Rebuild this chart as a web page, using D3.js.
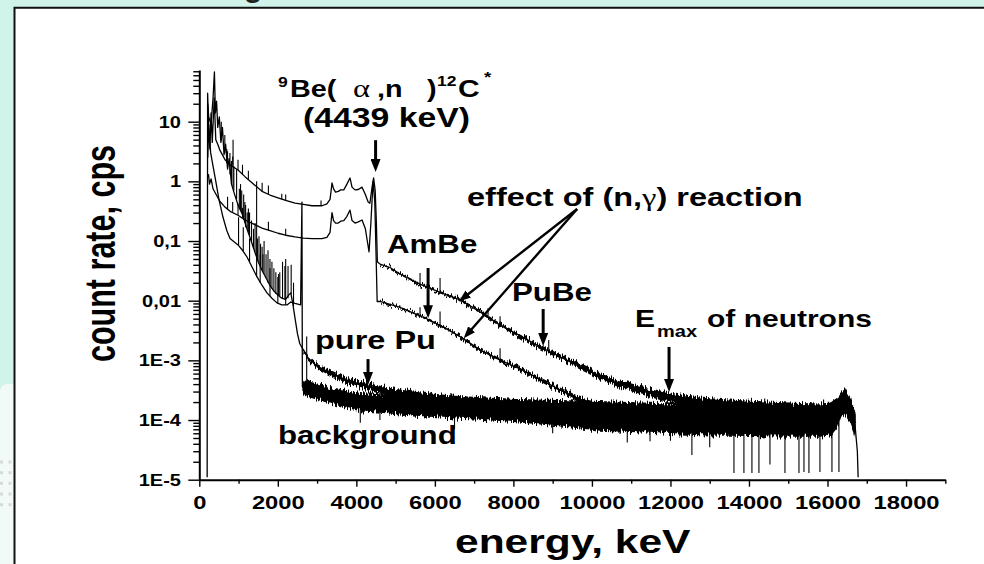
<!DOCTYPE html>
<html>
<head>
<meta charset="utf-8">
<script src="https://cdn.jsdelivr.net/npm/d3@7"></script>
<style>
  html, body { margin: 0; padding: 0; background: #fff; }
  svg { display: block; }
  text { font-family: "Liberation Sans", Arial, sans-serif; fill: #000; }
</style>
</head>
<body>
<div id="container"></div>
<script>
/* CONSTANTS AND GLOBALS */
const width = 984,
  height = 564,
  margin = { top: 70, bottom: 84.3, left: 199.3, right: 38.7 }
const stretch = 1.25 /* the slide picture is squeezed wider than tall, so the text is too */

/* DATA | each spectrum point is [energy keV, count rate cps, noise spread factor] */
const pubeSpectrum = [
  [215, 2.5, 1], [240, 9, 1], [270, 3.5, 1], [300, 14, 1], [330, 4.5, 1], [380, 25, 1], [420, 5, 1],
  [470, 4.2, 1], [527, 3.3, 1], [600, 2.7, 1], [655, 2.3, 1], [800, 1.85, 1], [986, 1.55, 1],
  [1164, 1.2, 1], [1400, 0.88, 1], [1597, 0.68, 1], [1800, 0.59, 1], [2005, 0.53, 1], [2200, 0.48, 1],
  [2438, 0.43, 1], [2650, 0.41, 1], [2871, 0.39, 1], [3125, 0.39, 1], [3250, 0.42, 1], [3330, 0.5, 1],
  [3380, 0.94, 1], [3420, 0.75, 1], [3470, 0.66, 1], [3540, 0.68, 1], [3600, 0.72, 1], [3680, 0.72, 1],
  [3760, 0.9, 1], [3838, 1.14, 1], [3890, 0.8, 1], [3966, 0.72, 1], [4050, 0.73, 1], [4145, 0.8, 1],
  [4230, 0.6, 1], [4300, 0.45, 1], [4345, 0.43, 1], [4400, 0.8, 1], [4440, 1.14, 1], [4480, 0.7, 1],
  [4510, 0.2, 1], [4535, 0.045, 1], [4603, 0.041, 1.03], [4858, 0.036, 1.035], [5113, 0.028, 1.04],
  [5622, 0.019, 1.045], [6132, 0.0138, 1.05], [6641, 0.0103, 1.055], [7151, 0.0065, 1.06],
  [7660, 0.0039, 1.07], [8169, 0.0026, 1.08], [8679, 0.00168, 1.09], [9188, 0.00115, 1.1],
  [9698, 0.00078, 1.11], [10207, 0.00054, 1.13], [10716, 0.0004, 1.15], [11225, 0.00032, 1.17],
  [11735, 0.00026, 1.2], [12244, 0.00022, 1.22], [12753, 0.00019, 1.25], [13400, 0.000175, 1.28],
  [14027, 0.00016, 1.32], [15300, 0.00014, 1.38], [16200, 0.00013, 1.4], [16450, 0.00022, 1.35],
  [16700, 0.00011, 1.4]
]

const ambeSpectrum = [
  [212, 1.2, 1], [235, 1.3, 1], [260, 0.9, 1], [300, 1.1, 1], [350, 0.75, 1], [400, 0.65, 1],
  [527, 0.46, 1], [655, 0.37, 1], [800, 0.31, 1], [986, 0.27, 1], [1164, 0.225, 1], [1400, 0.19, 1],
  [1597, 0.165, 1], [1800, 0.15, 1], [2005, 0.135, 1], [2200, 0.125, 1], [2438, 0.117, 1],
  [2650, 0.112, 1], [2871, 0.11, 1], [3125, 0.11, 1], [3250, 0.115, 1], [3330, 0.14, 1],
  [3380, 0.3, 1], [3420, 0.22, 1], [3470, 0.2, 1], [3540, 0.2, 1], [3600, 0.215, 1], [3680, 0.22, 1],
  [3760, 0.26, 1], [3838, 0.33, 1], [3890, 0.22, 1], [3966, 0.2, 1], [4050, 0.21, 1], [4145, 0.225, 1],
  [4230, 0.16, 1], [4290, 0.09, 1], [4323, 0.066, 1], [4370, 0.2, 1], [4425, 1.0, 1], [4470, 0.45, 1],
  [4505, 0.05, 1], [4530, 0.0097, 1], [4603, 0.0097, 1.03], [5113, 0.0077, 1.035], [5500, 0.006, 1.04],
  [5877, 0.0047, 1.045], [6250, 0.0035, 1.05], [6641, 0.0025, 1.055], [7151, 0.0015, 1.06],
  [7660, 0.00101, 1.07], [8169, 0.00072, 1.08], [8679, 0.00048, 1.09], [9188, 0.00032, 1.1],
  [9698, 0.00022, 1.12], [10207, 0.00016, 1.15], [10716, 0.00013, 1.18], [11480, 0.000115, 1.22],
  [12244, 0.000105, 1.27], [14000, 0.0001, 1.33], [16000, 0.0001, 1.38], [16450, 0.00018, 1.33],
  [16720, 0.00009, 1.4]
]

const purePuSpectrum = [
  [214, 20, 1], [240, 12, 1], [300, 9, 1], [350, 25, 1], [385, 68, 1], [410, 14, 1], [440, 22, 1],
  [470, 8, 1], [510, 12, 1], [550, 4.5, 1], [590, 8, 1], [630, 2.8, 1], [670, 4.2, 1], [720, 1.6, 1],
  [760, 2.4, 1], [820, 0.9, 1], [900, 0.6, 1], [1000, 0.38, 1], [1100, 0.28, 1], [1200, 0.17, 1],
  [1300, 0.11, 1], [1400, 0.07, 1], [1500, 0.045, 1], [1600, 0.032, 1], [1700, 0.024, 1],
  [1800, 0.018, 1], [1900, 0.0145, 1], [2000, 0.0125, 1], [2100, 0.011, 1], [2200, 0.0105, 1],
  [2280, 0.0125, 1], [2330, 0.0135, 1], [2380, 0.009, 1], [2440, 0.005, 1], [2500, 0.0028, 1],
  [2560, 0.0019, 1], [2650, 0.0015, 1.05], [2770, 0.0011, 1.07], [3000, 0.0008, 1.09],
  [3280, 0.00064, 1.11], [3710, 0.00048, 1.13], [4300, 0.00036, 1.15], [5000, 0.00028, 1.18],
  [5600, 0.00024, 1.22], [6500, 0.0002, 1.28], [8000, 0.00017, 1.33], [10000, 0.00015, 1.4],
  [12000, 0.00013, 1.45], [14000, 0.00012, 1.5], [16000, 0.00012, 1.5], [16400, 0.0002, 1.4],
  [16700, 0.0001, 1.5]
]

const backgroundSpectrum = [
  [200, 0.000011, 1], [212, 30, 1], [240, 8, 1], [290, 3, 1], [350, 1.8, 1], [420, 1.0, 1],
  [500, 0.5, 1], [604, 0.25, 1], [700, 0.15, 1], [782, 0.11, 1], [900, 0.095, 1], [986, 0.086, 1],
  [1100, 0.07, 1], [1215, 0.054, 1], [1350, 0.036, 1], [1470, 0.025, 1], [1600, 0.018, 1],
  [1724, 0.0135, 1], [1850, 0.011, 1], [1979, 0.0092, 1], [2100, 0.0085, 1], [2234, 0.0085, 1],
  [2330, 0.0095, 1], [2438, 0.009, 1], [2580, 0.0085, 1], [2614, 0.45, 1], [2625, 0.00036, 1.3],
  [2692, 0.00034, 1.35], [3000, 0.0003, 1.37], [3329, 0.00026, 1.38], [3700, 0.00023, 1.4],
  [4094, 0.0002, 1.42], [4600, 0.00019, 1.43], [5113, 0.00018, 1.45], [5700, 0.00017, 1.47],
  [6386, 0.00016, 1.5], [7000, 0.000155, 1.52], [7660, 0.00015, 1.55], [8300, 0.00014, 1.57],
  [8934, 0.00013, 1.6], [9600, 0.00012, 1.63], [10207, 0.00011, 1.66], [10800, 0.000108, 1.7],
  [11480, 0.000105, 1.72], [12100, 0.000102, 1.76], [12753, 0.0001, 1.8], [13400, 0.0001, 1.84],
  [14027, 0.0001, 1.86], [14700, 0.0001, 1.88], [15300, 0.0001, 1.9], [15800, 0.0001, 1.9],
  [16100, 0.000105, 1.88], [16250, 0.00013, 1.75], [16350, 0.00018, 1.6], [16447, 0.00022, 1.5],
  [16520, 0.00018, 1.5], [16600, 0.00014, 1.6], [16702, 0.00008, 1.7], [16760, 0.00003, 1],
  [16780, 0.000011, 1]
]

/* single-channel lines: [energy keV, rate at foot, rate at tip] */
const pubeSpikes = [
  [720, 2.1, 3.2], [850, 1.85, 2.6], [986, 1.55, 2.3], [1100, 1.3, 1.9], [1250, 1.05, 1.5],
  [1600, 0.68, 0.95], [1760, 0.6, 0.85], [2100, 0.5, 0.62], [2200, 0.48, 0.6], [3100, 0.39, 0.48],
  [5622, 0.019, 0.029], [6132, 0.0138, 0.024], [7354, 0.0052, 0.0075], [7660, 0.0039, 0.0055],
  [8900, 0.0014, 0.0022]
]
const ambeSpikes = [
  [720, 0.34, 0.55], [850, 0.31, 0.45], [986, 0.27, 0.42], [1100, 0.245, 0.36], [1250, 0.21, 0.3],
  [1760, 0.15, 0.21], [2200, 0.125, 0.16], [5622, 0.0055, 0.0078], [6132, 0.0037, 0.0066],
  [7660, 0.001, 0.0016]
]
const purePuSpikes = [
  [560, 4.8, 10], [650, 3, 6], [700, 2, 3.5], [780, 1.3, 3], [820, 0.9, 2.2], [860, 0.8, 5.0],
  [880, 0.7, 1.8], [950, 0.5, 1.6], [1020, 0.36, 0.75], [1050, 0.33, 0.9], [1080, 0.3, 0.7],
  [1130, 0.25, 0.6], [1160, 0.2, 0.45], [1180, 0.17, 0.4], [1220, 0.16, 0.3], [1250, 0.14, 0.35],
  [1280, 0.12, 0.3], [1330, 0.1, 0.22], [1380, 0.075, 0.16], [1420, 0.065, 0.2], [1480, 0.05, 0.11],
  [1520, 0.042, 0.12], [1560, 0.038, 0.09], [1600, 0.032, 0.08], [1620, 0.03, 0.06],
  [1650, 0.028, 0.1], [1700, 0.024, 0.06], [1750, 0.02, 0.07], [1800, 0.018, 0.05],
  [1850, 0.016, 0.045], [1900, 0.0145, 0.035], [1950, 0.013, 0.03], [2020, 0.012, 0.028],
  [2050, 0.012, 0.03], [2120, 0.011, 0.045], [2180, 0.0105, 0.038], [2260, 0.011, 0.038],
  [2340, 0.013, 0.04], [2400, 0.008, 0.02]
]
const backgroundSpikes = [
  [1000, 0.085, 0.25], [1120, 0.068, 0.17], [1280, 0.045, 0.11], [1460, 0.025, 1.0],
  [1550, 0.02, 0.06], [1800, 0.012, 0.035], [2000, 0.009, 0.025], [2200, 0.0085, 0.05],
  [2735, 0.00034, 0.0025], [4100, 0.0002, 0.00009], [4600, 0.00019, 0.0001],
  [6500, 0.00016, 0.00007], [9000, 0.00013, 0.00006], [10900, 0.000108, 0.000042],
  [11480, 0.000105, 0.000044], [12000, 0.000102, 0.000045], [12546, 0.0001, 0.000026],
  [13000, 0.0001, 0.000035], [13617, 0.0001, 0.000013], [13871, 0.0001, 0.000013],
  [14075, 0.0001, 0.000013], [14253, 0.0001, 0.000013], [14534, 0.0001, 0.000018],
  [14916, 0.0001, 0.000013], [15273, 0.0001, 0.000013], [15400, 0.0001, 0.0000135],
  [15527, 0.0001, 0.000013], [15807, 0.0001, 0.0000135], [16113, 0.0001, 0.0000135],
  [16291, 0.0001, 0.0000135], [12900, 0.0001, 0.00022], [14400, 0.0001, 0.00023],
  [15900, 0.0001, 0.00022], [16420, 0.00022, 0.00032]
]

/* axis ticks */
const energyTicks = [0, 2000, 4000, 6000, 8000, 10000, 12000, 14000, 16000, 18000]
const energyMinorTicks = [1000, 3000, 5000, 7000, 9000, 11000, 13000, 15000, 17000, 19000]
const rateTicks = [0.00001, 0.0001, 0.001, 0.01, 0.1, 1, 10]
const rateTickLabels = ["1E-5", "1E-4", "1E-3", "0,01", "0,1", "1", "10"]

/* annotation arrows in data space: [energy, rate at tail, energy, rate at tip] */
const downArrows = [
  [4490, 4.9, 4490, 1.43],        /* 4439 keV line */
  [5827, 0.0353, 5827, 0.0051],   /* AmBe */
  [8758, 0.00726, 8758, 0.00174], /* PuBe */
  [11964, 0.00168, 11964, 0.000295], /* Emax */
  [4297, 0.00105, 4297, 0.000386] /* pure Pu */
]
const captureArrows = [
  [9623, 0.344, 6590, 0.0095],
  [9623, 0.344, 6717, 0.00228]
]

/* SCALES */
const xScale = d3.scaleLinear()
  .domain([0, 19000])
  .range([margin.left, width - margin.right])

const yScale = d3.scaleLog()
  .domain([0.00001, 73.5])
  .range([height - margin.bottom, margin.top])

/* SVG */
const svg = d3.select("#container")
  .append("svg")
  .attr("width", width)
  .attr("height", height)

/* slide backdrop around the white panel */
svg.append("rect").attr("width", width).attr("height", height).attr("fill", "#d0f4e9")
svg.append("path")
  .attr("d", "M0,392 Q0,384 8,384 L14,384 L14,564 L0,564 Z")
  .attr("fill", "#f1faf7")
svg.selectAll(".dot")
  .data([462, 472.7, 483.3, 494, 504.7].flatMap(y => [[1.5, y], [10, y]]))
  .join("rect")
  .attr("class", "dot")
  .attr("x", d => d[0] - 1.5).attr("y", d => d[1] - 1.5)
  .attr("width", 3).attr("height", 3)
  .attr("fill", "#d6dada")
/* descender of the cut-off slide title */
svg.append("text").attr("x", 244).attr("y", -3).attr("font-size", 30).attr("font-weight", "bold")
  .style("fill", "#222").text("g")

svg.append("rect").attr("x", 14).attr("y", 7).attr("width", width - 14).attr("height", height - 7)
  .attr("fill", "#fff")
svg.append("path").attr("d", `M14.5,${height} V7.8 H${width}`)
  .attr("fill", "none").attr("stroke", "#111").attr("stroke-width", 2)

const defs = svg.append("defs")

/* arrow heads */
defs.append("marker").attr("id", "head")
  .attr("markerUnits", "userSpaceOnUse")
  .attr("markerWidth", 14).attr("markerHeight", 10)
  .attr("refX", 6).attr("refY", 5).attr("orient", "auto")
  .append("path").attr("d", "M0,0 L13,5 L0,10 Z").attr("fill", "#000")
defs.append("marker").attr("id", "headSmall")
  .attr("markerUnits", "userSpaceOnUse")
  .attr("markerWidth", 13).attr("markerHeight", 9)
  .attr("refX", 6).attr("refY", 4.5).attr("orient", "auto")
  .append("path").attr("d", "M0,0 L12,4.5 L0,9 Z").attr("fill", "#000")

/* ragged edge texture for the counting-noise bands (look only, the band limits are the data) */
const rough = defs.append("filter").attr("id", "rough")
  .attr("filterUnits", "userSpaceOnUse")
  .attr("x", 0).attr("y", 0).attr("width", width).attr("height", height)
rough.append("feTurbulence").attr("type", "fractalNoise")
  .attr("baseFrequency", "0.8 0.04").attr("numOctaves", 2).attr("seed", 7).attr("result", "grain")
rough.append("feColorMatrix").attr("in", "grain").attr("type", "matrix")
  .attr("values", "0 0 0 0 0.5  0 1.6 0 0 -0.3  0 0 0 0 0  0 0 0 0 1").attr("result", "shift")
rough.append("feDisplacementMap").attr("in", "SourceGraphic").attr("in2", "shift")
  .attr("scale", 7).attr("xChannelSelector", "R").attr("yChannelSelector", "G")

/* AXES */
const yMinor = yScale.ticks().filter(d => !rateTicks.some(t => Math.abs(t - d) / t < 1e-6))

svg.append("g")
  .attr("class", "yMinor")
  .attr("transform", `translate(${margin.left},0)`)
  .call(d3.axisLeft(yScale).tickValues(yMinor).tickSize(6).tickSizeOuter(0).tickFormat(""))
  .call(g => g.select(".domain").remove())

const yAxisGroup = svg.append("g")
  .attr("class", "yAxis")
  .attr("transform", `translate(${margin.left},0)`)
  .call(d3.axisLeft(yScale).tickValues(rateTicks).tickSize(11).tickSizeOuter(0)
    .tickFormat((d, i) => rateTickLabels[i]))

yAxisGroup.selectAll("text")
  .attr("x", -18.3 / stretch)
  .attr("dy", "0.34em")
  .attr("transform", `scale(${stretch},1)`)
  .attr("font-size", 16)
  .attr("font-weight", "bold")

svg.append("g")
  .attr("class", "xMinor")
  .attr("transform", `translate(0,${height - margin.bottom})`)
  .call(d3.axisBottom(xScale).tickValues(energyMinorTicks).tickSize(4).tickSizeOuter(0).tickFormat(""))
  .call(g => g.select(".domain").remove())

const xAxisGroup = svg.append("g")
  .attr("class", "xAxis")
  .attr("transform", `translate(0,${height - margin.bottom})`)
  .call(d3.axisBottom(xScale).tickValues(energyTicks).tickSize(7).tickSizeOuter(0)
    .tickFormat(d3.format("d")))

xAxisGroup.selectAll("text")
  .attr("y", 29)
  .attr("dy", null)
  .attr("transform", `scale(${stretch},1)`)
  .attr("font-size", 19)
  .attr("font-weight", "bold")

svg.selectAll(".xAxis .domain, .yAxis .domain").attr("stroke", "#000").attr("stroke-width", 2)
svg.selectAll(".tick line").attr("stroke", "#000").attr("stroke-width", 1.4)
svg.selectAll(".xAxis, .yAxis, .xMinor, .yMinor").attr("font-family", null)

/* SPECTRA */
const lineGen = d3.line()
  .x(d => xScale(d[0]))
  .y(d => yScale(d[1]))

const bandGen = d3.area()
  .x(d => xScale(d[0]))
  .y0(d => yScale(d[1] / d[2]))
  .y1(d => yScale(d[1] * d[2]))

const spectra = [backgroundSpectrum, purePuSpectrum, ambeSpectrum, pubeSpectrum]
const spikes = [backgroundSpikes, purePuSpikes, ambeSpikes, pubeSpikes]

svg.append("g")
  .attr("filter", "url(#rough)")
  .selectAll(".band")
  .data(spectra)
  .join("path")
  .attr("class", "band")
  .attr("fill", "#000")
  .attr("d", d => bandGen(d.filter(p => p[2] > 1)))

svg.selectAll(".spectrum")
  .data(spectra)
  .join("path")
  .attr("class", "spectrum")
  .attr("fill", "none")
  .attr("stroke", "#000")
  .attr("stroke-width", 1.3)
  .attr("stroke-linejoin", "round")
  .attr("d", d => lineGen(d))

svg.selectAll(".spike")
  .data(spikes.flat())
  .join("line")
  .attr("class", "spike")
  .attr("x1", d => xScale(d[0])).attr("x2", d => xScale(d[0]))
  .attr("y1", d => yScale(d[1])).attr("y2", d => yScale(d[2]))
  .attr("stroke", "#000")
  .attr("stroke-width", 1.1)

/* ANNOTATIONS */
function arrow(d, w, head) {
  const x1 = xScale(d[0]), y1 = yScale(d[1]), x2 = xScale(d[2]), y2 = yScale(d[3])
  const len = Math.hypot(x2 - x1, y2 - y1), ux = (x2 - x1) / len, uy = (y2 - y1) / len
  svg.append("line")
    .attr("x1", x1).attr("y1", y1)
    .attr("x2", x2 - ux * 7).attr("y2", y2 - uy * 7)
    .attr("stroke", "#000").attr("stroke-width", w)
    .attr("marker-end", `url(#${head})`)
}
downArrows.forEach(d => arrow(d, 3, "head"))
captureArrows.forEach(d => arrow(d, 2.4, "headSmall"))

/* text squeezed into the picture's aspect */
function label(x, y, size, str, weight = "bold", family = null) {
  const t = svg.append("text")
    .attr("transform", `translate(${x},${y}) scale(${stretch},1)`)
    .attr("font-size", size)
    .attr("font-weight", weight)
    .text(str)
  if (family) t.style("font-family", family)
  return t
}

label(278, 87, 14, "9")
label(290, 97, 23, "Be(")
label(353, 97, 26, "\u03b1", "normal", "Liberation Serif")
label(377, 97, 23, ",n")
label(427, 97, 23, ")")
label(437, 86, 14, "12")
label(458, 97, 24, "C")
label(484, 82, 15, "*")
label(303, 127, 27, "(4439 keV)")

const effect = label(467, 206, 26, "effect of (n,")
effect.append("tspan").style("font-family", "Liberation Serif").attr("font-weight", "normal").text("\u03b3")
effect.append("tspan").text(") reaction")

label(387, 253, 25, "AmBe")
label(512, 301, 25, "PuBe")
label(635, 327, 24, "E")
label(657, 337, 16, "max")
label(707, 327, 24, "of neutrons")
label(315, 349, 26, "pure Pu")
label(278, 444, 25, "background")

label(455, 553, 34, "energy, keV")

svg.append("text")
  .attr("transform", `translate(115,253.5) rotate(-90) scale(1,1.35)`)
  .attr("text-anchor", "middle")
  .attr("font-size", 32)
  .attr("font-weight", "bold")
  .attr("textLength", 217)
  .attr("lengthAdjust", "spacingAndGlyphs")
  .text("count rate, cps")
</script>
</body>
</html>
